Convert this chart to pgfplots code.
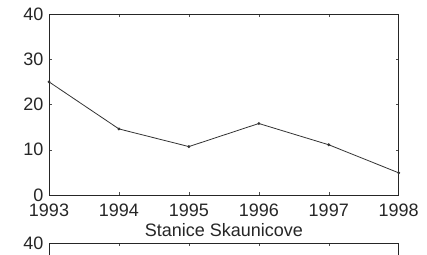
\documentclass[border=0pt]{standalone}
\usepackage{fontspec}
\setmainfont{Liberation Sans}
\usepackage{pgfplots}
\pgfplotsset{compat=1.18}
\begin{document}
\fontsize{18}{21}\selectfont
\begin{tikzpicture}[x=1pt,y=1pt]
\useasboundingbox (0,0) rectangle (427,254);
\pgfplotsset{
  mystyle/.style={
    scale only axis, width=349.7pt, height=181pt,
    xmin=1993, xmax=1998, ymin=0, ymax=40,
    xtick={1993,1994,1995,1996,1997,1998},
    ytick={0,10,20,30,40},
    tick align=inside, major tick length=3pt,
    axis line style={line width=0.7pt, black!85},
    every tick/.style={black!70, line width=0.5pt},
    /pgf/number format/assume math mode=true,
    /pgf/number format/1000 sep={},
    ticklabel style={font=\fontsize{18}{21}\selectfont, text=black!85},
    label style={font=\fontsize{18}{21}\selectfont, text=black!85},
    yticklabel style={inner sep=5.5pt},
  }
}
\begin{axis}[mystyle, at={(49pt,59pt)}, anchor=south west,
  xticklabel style={yshift=-2.5pt},
  xlabel={Stanice Skaunicove},
  xlabel style={yshift=5pt}]
\addplot[black!80, line width=0.8pt, mark=*, mark size=1pt] coordinates {
 (1993,25.0) (1994,14.6) (1995,10.7) (1996,15.8) (1997,11.1) (1998,4.9)
};
\end{axis}
\begin{axis}[mystyle, at={(49pt,11pt)}, anchor=north west, xticklabels={}]
\end{axis}
\end{tikzpicture}
\end{document}
